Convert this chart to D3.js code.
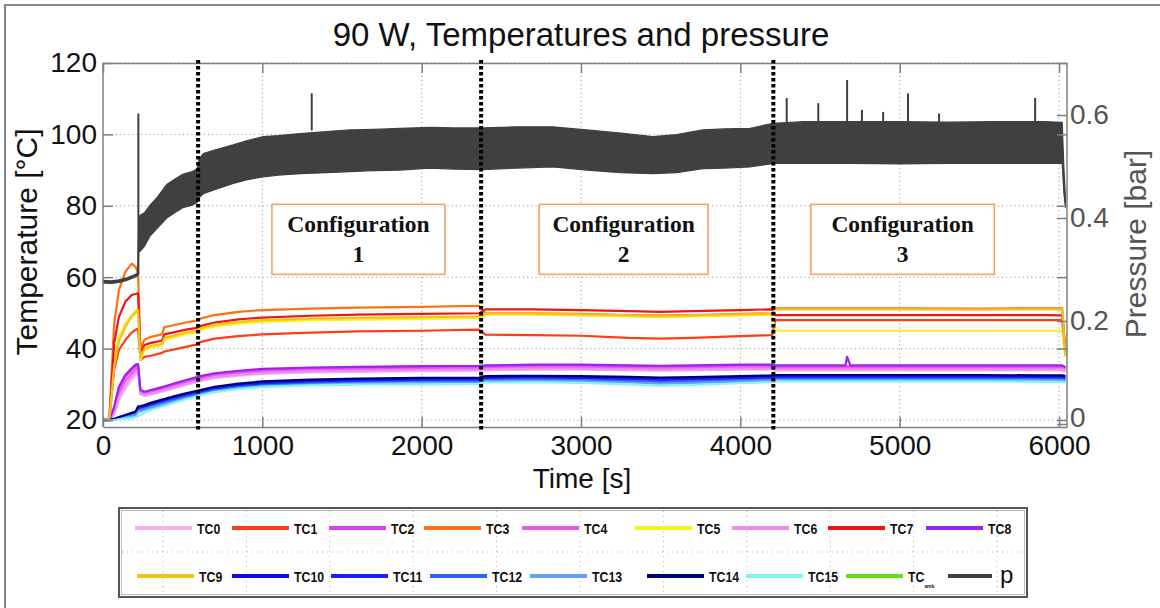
<!DOCTYPE html>
<html><head><meta charset="utf-8">
<script src="https://cdn.jsdelivr.net/npm/d3@7"></script>
<style>body{margin:0;background:#fff}svg{display:block}</style>
</head><body><svg id="c" width="1160" height="608"></svg>
<script>
// ---------- DATA ----------
const time = [0,40,70,100,140,180,205,220,235,260,300,370,385,450,520,590,610,700,850,1000,1300,1600,2000,2360,2400,2700,3000,3300,3500,3700,4000,4200,4220,4500,4660,4670,4690,5000,5500,5900,6020,6040];
const TC0 = [20,20,21.5,25.5,28.8,31.2,32.8,33.5,27.2,26.7,27.1,27.9,28.1,28.9,29.8,30.6,30.9,31.7,32.4,32.9,33.3,33.5,33.7,33.8,33.9,34.1,34.1,33.9,33.8,33.9,34.1,34.1,33.9,33.9,33.9,33.9,33.9,33.9,33.9,33.9,33.9,33.5];
const TC1 = [20,20.2,34,39.6,42.4,44.5,45.3,45.6,36.8,37.7,38,38.8,39.2,39.8,40.5,41.2,41.8,42.8,43.5,44,44.5,44.8,45,45.3,43.9,43.8,43.6,43,42.8,43,43.5,43.8,48,48,48,48,48,48,48,48,48,39];
const TC2 = [20,20,23.3,28.8,32.1,34,35,35.2,28.1,27.6,28.1,28.9,29.1,30,30.9,31.7,32,32.8,33.5,34,34.4,34.6,34.8,34.9,35,35.2,35.2,35,34.9,35,35.2,35.2,35,35,35,35,35,35,35,35,35,34.6];
const TC3 = [20,20.5,47,56.4,61.5,63.8,62.9,61,39.8,42.5,43.3,44,46,46.6,47.3,47.9,48.4,49.4,50.3,50.8,51.2,51.5,51.7,52,49.9,49.9,49.7,49.4,49.3,49.4,49.7,49.9,51.3,51.3,51.3,51.3,51.3,51.3,51.2,51.3,51.3,39];
const TC4 = [20,20,22.5,27.5,31,33,34.2,34.6,27.8,27.3,27.8,28.6,28.8,29.6,30.5,31.3,31.6,32.4,33.1,33.6,34,34.2,34.4,34.5,34.6,34.8,34.8,34.6,34.5,34.6,34.8,34.8,34.6,34.6,34.6,34.6,34.6,34.6,34.6,34.6,34.6,34.2];
const TC5 = [20,20.3,36.8,43.3,47,49.4,50.5,51.2,36.8,39.6,40.3,40.8,42.5,43.2,44,44.6,45.2,46.2,47,47.5,47.9,48.1,48.3,48.5,49.5,49.5,49.3,49,48.8,49,49.3,49.5,45,45,45,45,45,45,45,45,45,37.7];
const TC6 = [20,20,22,26.5,29.8,32.2,33.5,34,27.5,27,27.4,28.2,28.4,29.2,30.1,30.9,31.2,32,32.7,33.2,33.6,33.8,34,34.1,34.2,34.4,34.4,34.2,34.1,34.2,34.4,34.4,34.2,34.2,34.2,34.2,34.2,34.2,34.2,34.2,34.2,33.8];
const TC7 = [20,20.3,41.5,48.9,53.1,55,55.3,55.5,38.7,41,41.6,42.2,44,44.6,45.3,45.8,46.3,47.3,48.2,48.7,49.2,49.5,49.7,49.9,51,51,50.8,50.5,50.3,50.5,50.8,51,49.4,49.4,49.4,49.4,49.4,49.4,49.4,49.4,49.3,39.6];
const TC8 = [20,20,23.7,29.3,32.6,34.5,35.5,35.7,28.4,27.9,28.4,29.2,29.4,30.3,31.2,32,32.3,33.1,33.8,34.3,34.7,34.9,35.1,35.2,35.3,35.5,35.5,35.3,35.2,35.3,35.5,35.5,35.3,35.3,35.3,37.7,35.3,35.3,35.3,35.3,35.3,34.8];
const TC9 = [20,20.3,35,42,46,49,50,50.8,37.5,40,40.8,41.3,43,43.7,44.5,45.1,45.7,46.7,47.5,48,48.4,48.6,48.8,49,49.8,49.8,49.6,49.3,49.1,49.3,49.6,49.8,51,51,51,51,51,51,50.9,51,51,38];
const TC10 = [19.8,20,20.3,20.7,21.2,21.7,22.1,23.5,23.6,23.9,24.5,25.4,25.6,26.4,27.2,27.9,28.1,29,29.9,30.4,30.9,31.2,31.4,31.5,31.9,32,31.9,31.7,31.5,31.6,31.9,32.1,32.2,32.2,32.2,32.2,32.2,32.2,32.2,32.1,32.1,31.9];
const TC11 = [19.8,20,20.2,20.6,21,21.5,21.9,23.2,23.3,23.6,24.2,25.1,25.3,26.1,26.9,27.6,27.8,28.7,29.6,30.1,30.6,30.9,31.1,31.2,31.6,31.7,31.6,31.4,31.2,31.3,31.6,31.8,31.9,31.9,31.9,31.9,31.9,31.9,31.9,31.8,31.8,31.6];
const TC12 = [19.8,19.9,20.1,20.5,20.9,21.3,21.6,22.8,22.9,23.2,23.8,24.7,24.9,25.7,26.5,27.2,27.4,28.3,29.2,29.7,30.2,30.5,30.7,30.8,31.2,31.3,31.2,30.9,30.7,30.8,31.2,31.4,31.5,31.5,31.5,31.5,31.5,31.5,31.5,31.4,31.4,31.2];
const TC13 = [19.8,19.9,20.1,20.4,20.7,21,21.3,22.3,22.5,22.8,23.4,24.3,24.5,25.3,26.1,26.8,27.1,28,28.9,29.4,29.9,30.2,30.4,30.5,30.9,31,30.9,30.5,30.2,30.4,30.8,31.1,31.2,31.2,31.2,31.2,31.2,31.2,31.2,31.1,31.1,30.9];
const TC14 = [19.8,20,20.3,20.8,21.4,22,22.4,23.8,23.9,24.2,24.8,25.7,25.9,26.7,27.5,28.2,28.4,29.3,30.2,30.8,31.3,31.6,31.8,31.9,32.3,32.4,32.3,32.1,31.9,32,32.3,32.5,32.6,32.6,32.6,32.6,32.6,32.6,32.6,32.5,32.5,32.3];
const TC15 = [19.8,19.9,20,20.2,20.4,20.6,20.8,21,21.5,22,22.8,23.8,24,24.9,25.8,26.6,26.9,27.8,28.7,29.3,29.7,29.9,30,30.1,30.5,30.6,30.4,30,29.6,29.8,30.3,30.6,30.8,30.8,30.8,30.8,30.8,30.8,30.8,30.7,30.7,30.4];
const TCamb = []; // listed in legend, not visible in plot

// pressure [bar]: envelope of the noisy signal
const pTime  = [0,50,100,150,200,218,225,232,260,295,340,400,450,500,560,590,605,630,700,817,900,1005,1100,1237,1400,1550,1700,1864,2052,2200,2385,2600,2824,3036,3250,3452,3600,3766,3900,4061,4206,4400,4700,5000,5300,5600,5900,6020,6030,6040];
const pUpper = [0.279,0.278,0.280,0.284,0.290,0.293,0.395,0.405,0.410,0.425,0.440,0.465,0.475,0.485,0.490,0.495,0.515,0.525,0.532,0.542,0.550,0.558,0.560,0.564,0.568,0.571,0.572,0.574,0.576,0.575,0.575,0.577,0.577,0.571,0.565,0.558,0.562,0.571,0.573,0.574,0.584,0.587,0.587,0.587,0.586,0.587,0.587,0.586,0.500,0.440];
const pLower = [0.274,0.273,0.275,0.279,0.285,0.288,0.335,0.335,0.345,0.365,0.380,0.400,0.410,0.420,0.425,0.430,0.440,0.447,0.455,0.467,0.474,0.480,0.483,0.486,0.488,0.490,0.492,0.493,0.497,0.495,0.494,0.497,0.499,0.493,0.488,0.486,0.488,0.496,0.497,0.499,0.506,0.506,0.506,0.505,0.506,0.506,0.506,0.506,0.450,0.420];
const spikeTime = [222,1310,4291,4489,4670,4763,4896,5052,5247,5850];
const spikeTop  = [0.603,0.642,0.633,0.623,0.668,0.610,0.606,0.642,0.603,0.633];
const spikeBase = [0.290,0.570,0.580,0.580,0.580,0.580,0.580,0.580,0.580,0.580];

const seriesNames = ["TC0","TC1","TC2","TC3","TC4","TC5","TC6","TC7","TC8","TC9","TC10","TC11","TC12","TC13","TC14","TC15","TCamb"];
const seriesValues = [TC0,TC1,TC2,TC3,TC4,TC5,TC6,TC7,TC8,TC9,TC10,TC11,TC12,TC13,TC14,TC15,TCamb];
const seriesColors = ["#F2B2F2","#FF3C14","#E23CF0","#FF7014","#E25AEA","#F8F020","#EC8CEC","#F01414","#A020F0","#F2C21E","#0A0AE6","#1E1EFA","#3264FA","#64A0FA","#00007E","#7EF6F6","#62E020"];
const pressureColor = "#404040";

const xTicks = [0,1000,2000,3000,4000,5000,6000];
const yTicks = [20,40,60,80,100,120];
const pTicks = [0,0.2,0.4,0.6];
const configSplits = [597,2373,4207];
const configLabels = ["1","2","3"];
const configFrom = [1060,2737,4442];
const configTo = [2146,3797,5594];

// ---------- LAYOUT ----------
const SANS = "'Liberation Sans',Arial,Helvetica,sans-serif";
const SERIF = "'Liberation Serif','Times New Roman',Times,serif";
const svg = d3.select("#c");
const L = 103, R = 1067, T = 63, B = 427;
const x = d3.scaleLinear().domain([0,6050]).range([L,R]);
const yT = d3.scaleLinear().domain([20,120]).range([420,63]);
const yP = d3.scaleLinear().domain([0,0.6]).range([424,115]);

// figure frame
svg.append("path").attr("d","M5,608V5H1160").attr("fill","none").attr("stroke","#666").attr("stroke-width",1.6);

// title
svg.append("text").attr("x",581).attr("y",46).attr("text-anchor","middle")
  .style("font-family",SANS).attr("font-size",33).attr("fill","#111")
  .text("90 W, Temperatures and pressure");

// grid
const grid = svg.append("g").attr("stroke","#9a9a9a").attr("stroke-width",1).attr("stroke-dasharray","1.2,3");
grid.selectAll(".gx").data(xTicks.slice(1)).join("line").attr("x1",d=>x(d)).attr("x2",d=>x(d)).attr("y1",T).attr("y2",B);
grid.selectAll(".gy").data(yTicks).join("line").attr("x1",L).attr("x2",R).attr("y1",d=>yT(d)).attr("y2",d=>yT(d));

// clip
svg.append("clipPath").attr("id","clip").append("rect").attr("x",L).attr("y",T-2).attr("width",R-L).attr("height",B-T+2);
const plot = svg.append("g").attr("clip-path","url(#clip)");

// temperature lines
const line = d3.line().x((d,i)=>x(time[i])).y(d=>yT(d));
seriesValues.forEach((vals,k)=>{
  if(!vals.length) return;
  plot.append("path").datum(vals).attr("d",line).attr("fill","none")
    .attr("stroke",seriesColors[k]).attr("stroke-width",2.2).attr("stroke-linejoin","round");
});

// pressure band
const pData = pTime.map((t,i)=>({t,u:pUpper[i],l:pLower[i]}));
const area = d3.area().x(d=>x(d.t)).y0(d=>yP(d.l)).y1(d=>yP(d.u));
plot.append("path").datum(pData).attr("d",area).attr("fill",pressureColor).attr("stroke",pressureColor).attr("stroke-width",1.2);
plot.selectAll(".spk").data(spikeTime).join("line")
  .attr("x1",d=>x(d)).attr("x2",d=>x(d))
  .attr("y1",(d,i)=>yP(spikeBase[i])).attr("y2",(d,i)=>yP(spikeTop[i]))
  .attr("stroke",pressureColor).attr("stroke-width",2);

// axes
const fs = 28;
function styleAxis(g, col){
  g.selectAll("path.domain").attr("stroke","#808080").attr("stroke-width",1.5);
  g.selectAll(".tick line").attr("stroke","#808080").attr("stroke-width",1.5);
  g.selectAll("text").attr("font-size",fs).attr("fill",col).style("font-family",SANS);
}
const ax = svg.append("g").attr("transform",`translate(0,${B})`)
  .call(d3.axisBottom(x).tickValues(xTicks).tickSize(-10).tickSizeOuter(0).tickPadding(8).tickFormat(d3.format("d")));
styleAxis(ax,"#111");
const axt = svg.append("g").attr("transform",`translate(0,${T})`)
  .call(d3.axisTop(x).tickValues(xTicks).tickSize(-10).tickSizeOuter(0).tickFormat(""));
styleAxis(axt,"#111");
const ay = svg.append("g").attr("transform",`translate(${L},0)`)
  .call(d3.axisLeft(yT).tickValues(yTicks).tickSize(-10).tickSizeOuter(0).tickPadding(6));
ay.select("path.domain").attr("d",`M0,${T}V${B}`);
styleAxis(ay,"#111");
const ayr = svg.append("g").attr("transform",`translate(${R},0)`)
  .call(d3.axisRight(yT).tickValues(yTicks).tickSize(-10).tickSizeOuter(0).tickFormat(""));
ayr.select("path.domain").attr("d",`M0,${T}V${B}`);
styleAxis(ayr,"#111");
const ap = svg.append("g").attr("transform",`translate(${R},0)`)
  .call(d3.axisRight(yP).tickValues(pTicks).tickSize(-10).tickSizeOuter(0).tickPadding(3).tickFormat(d=>d===0?"0":d3.format(".1f")(d)));
ap.select("path.domain").remove();
styleAxis(ap,"#555");
ap.selectAll(".tick text").filter(d=>d===0).attr("dy","0.1em");

// axis titles
svg.append("text").attr("x",582).attr("y",488).attr("text-anchor","middle").style("font-family",SANS).attr("font-size",fs).attr("fill","#111").text("Time [s]");
svg.append("text").attr("transform","translate(37,242) rotate(-90)").attr("text-anchor","middle").style("font-family",SANS).attr("font-size",30).attr("fill","#111").text("Temperature [°C]");
svg.append("text").attr("transform","translate(1146,244) rotate(-90)").attr("text-anchor","middle").style("font-family",SANS).attr("font-size",30).attr("fill","#555").text("Pressure [bar]");

// config boxes
configLabels.forEach((lab,i)=>{
  const x0 = x(configFrom[i]), x1 = x(configTo[i]);
  const y0 = yT(80.4), y1 = yT(60.8);
  svg.append("rect").attr("x",x0).attr("y",y0).attr("width",x1-x0).attr("height",y1-y0)
    .attr("fill","#fff").attr("stroke","#F4A070").attr("stroke-width",1.6);
  svg.append("text").attr("x",(x0+x1)/2).attr("y",y0+28).attr("text-anchor","middle")
    .style("font-family",SERIF).attr("font-weight","bold").attr("font-size",23.5).attr("fill","#111").text("Configuration");
  svg.append("text").attr("x",(x0+x1)/2).attr("y",y0+58).attr("text-anchor","middle")
    .style("font-family",SERIF).attr("font-weight","bold").attr("font-size",23.5).attr("fill","#111").text(lab);
});

// separators
svg.selectAll(".sep").data(configSplits).join("line")
  .attr("x1",d=>x(d)).attr("x2",d=>x(d)).attr("y1",60).attr("y2",430)
  .attr("stroke","#000").attr("stroke-width",4).attr("stroke-dasharray","3.5,2.5");

// ---------- LEGEND ----------
const lg = svg.append("g");
lg.append("rect").attr("x",119).attr("y",508).attr("width",908).attr("height",89).attr("fill","#fff").attr("stroke","#555").attr("stroke-width",2);
lg.append("rect").attr("x",121.5).attr("y",510.5).attr("width",903).attr("height",84).attr("fill","none").attr("stroke","#bbb").attr("stroke-width",1);
const lgGrid = lg.append("g").attr("stroke","#b0b0b0").attr("stroke-dasharray","1,4");
lgGrid.append("line").attr("x1",122).attr("x2",1024).attr("y1",552).attr("y2",552);
d3.range(11).forEach(k=>{
  const gx = 163 + k*83.4;
  lgGrid.append("line").attr("x1",gx).attr("x2",gx).attr("y1",511).attr("y2",594);
});
const legendNames = seriesNames.concat(["p"]);
const legendColors = seriesColors.concat([pressureColor]);
const row1X = [135,232,329,424,522,635,732,828,926];
const row2X = [137,232,331,430,530,647,746,846,948];
legendNames.forEach((nm,i)=>{
  const row = i<9?0:1, col = row?i-9:i;
  const lx = row?row2X[col]:row1X[col];
  const ly = row?576:528;
  const len = nm==="p"?44:57;
  lg.append("line").attr("x1",lx).attr("x2",lx+len).attr("y1",ly).attr("y2",ly)
    .attr("stroke",legendColors[i]).attr("stroke-width",4);
  if(nm==="p"){
    lg.append("text").attr("x",lx+len+8).attr("y",ly+7).style("font-family",SANS).attr("font-size",24).attr("fill","#111").text("p");
  } else if(nm==="TCamb"){
    const t = lg.append("text").attr("transform",`translate(${lx+len+5},${ly+5.5}) scale(0.82,1)`).style("font-family",SANS).attr("font-size",15).attr("font-weight","bold").attr("fill","#111");
    t.append("tspan").text("TC");
    t.append("tspan").attr("font-size",6).attr("dy",7).text("amb");
  } else {
    lg.append("text").attr("transform",`translate(${lx+len+5},${ly+5.5}) scale(0.82,1)`).style("font-family",SANS).attr("font-size",15).attr("font-weight","bold").attr("fill","#111").text(nm);
  }
});
</script></body></html>
